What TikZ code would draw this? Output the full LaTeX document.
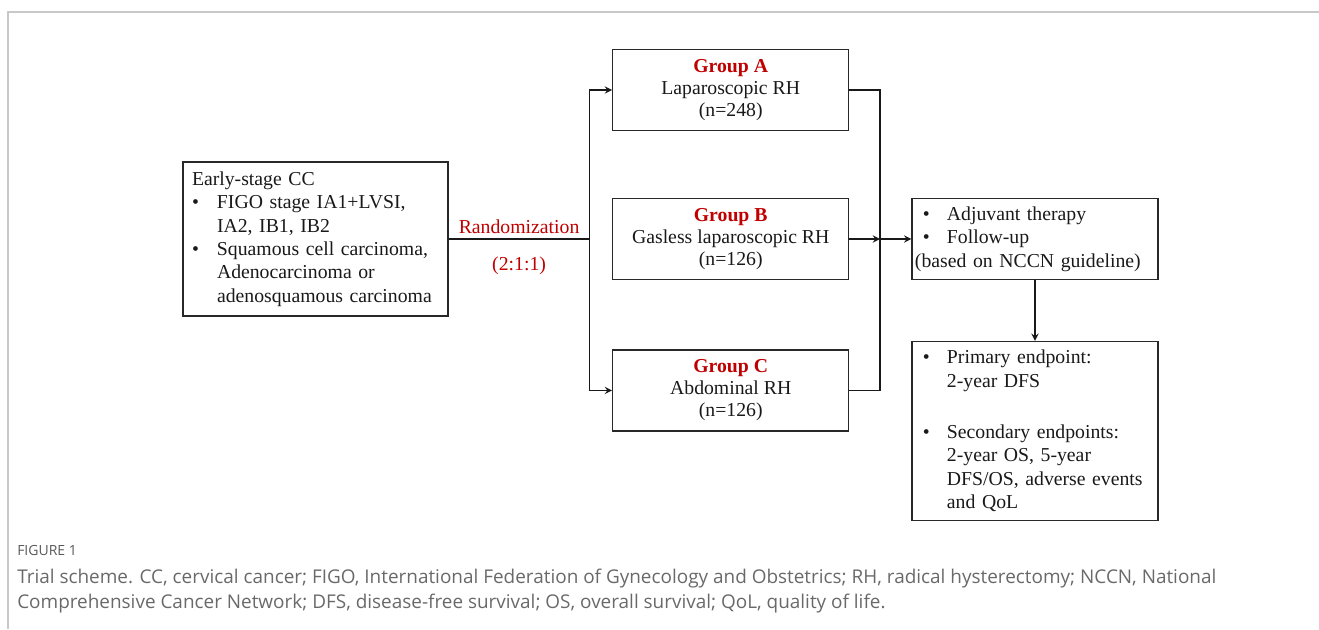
\documentclass[tikz,border=0pt]{standalone}
\usepackage{fontspec}
\setmainfont{Liberation Serif}
\newfontfamily\capfont{Open Sans}
\usetikzlibrary{shapes.geometric, arrows, positioning}
\definecolor{grpred}{RGB}{192,0,0}
\definecolor{boxgray}{RGB}{40,40,40}
\definecolor{framegray}{RGB}{200,200,200}
\definecolor{capgray}{RGB}{105,105,105}
\tikzstyle{group} = [rectangle, minimum width=177pt, minimum height=60.75pt, align=center, draw=boxgray, line width=1pt, text=black!90, font=\fontsize{14.8}{16.5}\selectfont]
\tikzstyle{listbox} = [rectangle, align=left, draw=boxgray, line width=1pt, text=black!90, font=\fontsize{14.8}{17.6}\selectfont]
\tikzstyle{line2} = [line width=1.4pt, draw=black!90]
\tikzstyle{arrow2} = [line width=1.4pt, draw=black!90, ->, >=stealth]
\tikzstyle{frame} = [line width=1.2pt, draw=framegray]
\tikzstyle{caption} = [anchor=base west, inner sep=0pt, text=capgray]
\newcommand{\bul}{\makebox[18.75pt][l]{\textbullet}}
\newcommand{\hang}{\hspace*{18.75pt}}
\newcommand{\grp}[1]{\textcolor{grpred}{\textbf{#1}}}

\begin{document}
\begin{tikzpicture}[x=0.75pt, y=-0.75pt]
            \useasboundingbox (0,0) rectangle (1319,629);
            % Frame
            \draw [frame] (8,629) -- (8,12) -- (1319,12);

            % Place nodes
            \node (eligible) [listbox, minimum width=198.75pt, minimum height=115.5pt, text width=185.25pt, inner xsep=6.75pt] at (315.5,239) {Early-stage CC\\ \bul FIGO stage IA1+LVSI,\\ \hang IA2, IB1, IB2\\ \bul Squamous cell carcinoma,\\ \hang Adenocarcinoma or\\ \hang adenosquamous carcinoma};
            \node (groupB) [group, right of=eligible, node distance=311.4pt] {\grp{Group B}\\ Gasless laparoscopic RH\\ (n=126)};
            \node (groupA) [group, above of=groupB, node distance=111.75pt] {\grp{Group A}\\ Laparoscopic RH\\ (n=248)};
            \node (groupC) [group, below of=groupB, node distance=113.6pt] {\grp{Group C}\\ Abdominal RH\\ (n=126)};
            \node (followup) [listbox, minimum width=184.5pt, minimum height=60.75pt, text width=180pt, inner xsep=2.25pt, right of=groupB, node distance=228.2pt] {\hspace*{6pt}\makebox[18pt][l]{\textbullet}Adjuvant therapy\\ \hspace*{6pt}\makebox[18pt][l]{\textbullet}Follow-up\\ (based on NCCN guideline)};
            \node (endpoint) [listbox, minimum width=184.5pt, minimum height=134.25pt, text width=180pt, inner xsep=2.25pt, below of=followup, node distance=144pt] {\hspace*{6pt}\makebox[18pt][l]{\textbullet}Primary endpoint:\\ \hspace*{24pt}2-year DFS\\[20.6pt] \hspace*{6pt}\makebox[18pt][l]{\textbullet}Secondary endpoints:\\ \hspace*{24pt}2-year OS, 5-year\\ \hspace*{24pt}DFS/OS, adverse events\\ \hspace*{24pt}and QoL};
            \coordinate (split) at (589.5,239);
            \coordinate (join) at (880,239);

            % Draw edges
            \draw [line2] (eligible) -- node[above, text=grpred, font=\fontsize{14.8}{16}\selectfont] {Randomization} node[below=9pt, text=grpred, font=\fontsize{14.8}{16}\selectfont] {(2:1:1)} (split);
            \draw [arrow2] (split) |- (groupA);
            \draw [arrow2] (split) |- (groupC);
            \draw [line2] (groupA) -| (join);
            \draw [line2] (groupC) -| (join);
            \draw [arrow2] (groupB) -- (join);
            \draw [arrow2] (join) -- (followup);
            \draw [arrow2] (followup) -- (endpoint);

            % Caption
            \node (figlabel) [caption, text=black!65, font=\capfont\fontsize{10.5}{12}\selectfont] at (17,555) {FIGURE 1};
            \node (capline1) [caption, font=\capfont\fontsize{14.2}{17}\selectfont] at (17,583) {Trial scheme. CC, cervical cancer; FIGO, International Federation of Gynecology and Obstetrics; RH, radical hysterectomy; NCCN, National};
            \node (capline2) [caption, font=\capfont\fontsize{14.2}{17}\selectfont] at (17,608) {Comprehensive Cancer Network; DFS, disease-free survival; OS, overall survival; QoL, quality of life.};
\end{tikzpicture}
\end{document}
